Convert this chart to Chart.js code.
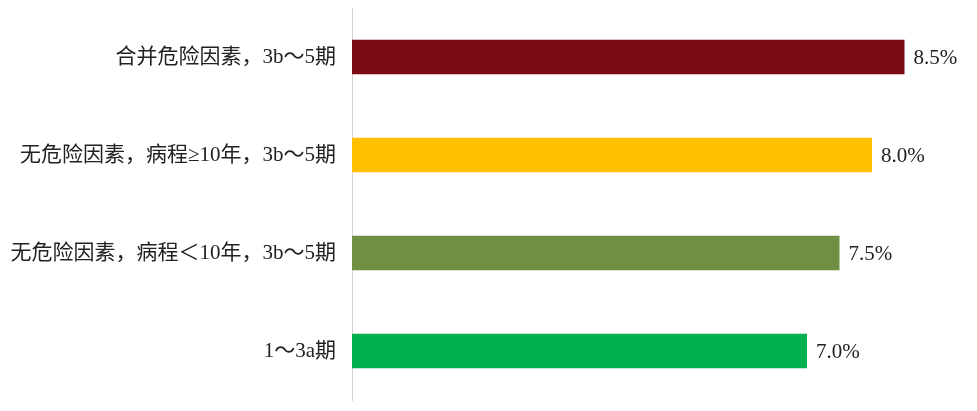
<!DOCTYPE html>
<html>
<head>
<meta charset="utf-8">
<script src="https://cdn.jsdelivr.net/npm/chart.js@4.4.0/dist/chart.umd.min.js"></script>
<style>
html,body{margin:0;padding:0;background:#fff;}
#wrap{width:977px;height:411px;position:relative;}
</style>
</head>
<body>
<div id="wrap"><canvas id="c"></canvas></div>
<script>
const categories = [
  "合并危险因素，3b～5期",
  "无危险因素，病程≥10年，3b～5期",
  "无危险因素，病程＜10年，3b～5期",
  "1～3a期"
];
const values = [8.5, 8.0, 7.5, 7.0];
const valueLabels = ["8.5%", "8.0%", "7.5%", "7.0%"];
const barColors = ["#7B0B12", "#FFC000", "#6F8F45", "#00B050"];

const FONT = '"Liberation Serif", "Noto Sans CJK SC", serif';

const valueLabelPlugin = {
  id: 'valueLabels',
  afterDatasetsDraw(chart) {
    const ctx = chart.ctx;
    const meta = chart.getDatasetMeta(0);
    ctx.save();
    ctx.font = '21px ' + FONT;
    ctx.fillStyle = '#222';
    ctx.textAlign = 'left';
    ctx.textBaseline = 'middle';
    meta.data.forEach((bar, i) => {
      ctx.fillText(valueLabels[i], bar.x + 9, bar.y + 1);
    });
    ctx.restore();
  }
};

new Chart(document.getElementById('c'), {
  type: 'bar',
  data: {
    labels: categories,
    datasets: [{
      data: values,
      backgroundColor: barColors,
      borderWidth: 0,
      categoryPercentage: 1.0,
      barPercentage: 0.35
    }]
  },
  options: {
    indexAxis: 'y',
    responsive: true,
    maintainAspectRatio: false,
    animation: false,
    layout: { padding: { top: 8, bottom: 11, right: 40, left: 0 } },
    plugins: { legend: { display: false }, tooltip: { enabled: false } },
    scales: {
      x: {
        display: false,
        min: 0,
        max: 9
      },
      y: {
        afterFit(s) { s.width = 352; s.paddingTop = 0; s.paddingBottom = 0; },
        grid: { display: false },
        border: { display: true, color: '#d4d4d4', width: 1 },
        ticks: {
          padding: 8,
          color: '#222',
          font: { size: 21, family: FONT }
        }
      }
    }
  },
  plugins: [valueLabelPlugin]
});
</script>
</body>
</html>
